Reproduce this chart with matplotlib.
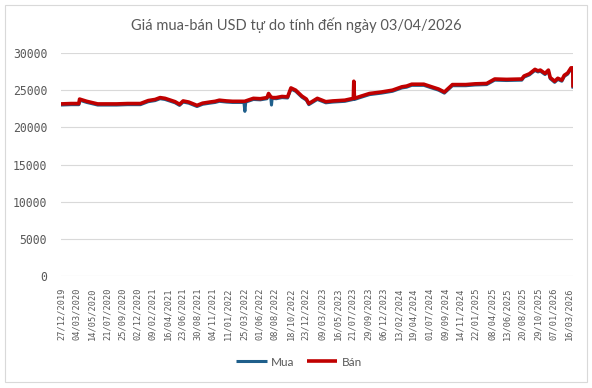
import numpy as np
import matplotlib
matplotlib.use("Agg")
import matplotlib.pyplot as plt
import matplotlib.dates as mdates
from matplotlib.patches import Rectangle

# Data
dates = ["2019-12-27", "2020-02-10", "2020-03-16", "2020-03-19", "2020-04-20",
         "2020-06-08", "2020-07-15", "2020-09-01", "2020-10-20", "2020-12-16",
         "2021-01-20", "2021-02-20", "2021-03-14", "2021-04-05", "2021-04-25",
         "2021-05-20", "2021-06-09", "2021-06-25", "2021-07-20", "2021-08-26",
         "2021-09-20", "2021-10-22", "2021-11-15", "2021-12-04", "2022-01-05",
         "2022-02-01", "2022-03-24", "2022-03-28", "2022-04-01", "2022-05-05",
         "2022-06-05", "2022-07-05", "2022-07-12", "2022-07-22", "2022-07-25",
         "2022-07-28", "2022-08-15", "2022-09-10", "2022-10-05", "2022-10-20",
         "2022-11-10", "2022-12-08", "2022-12-28", "2023-01-08", "2023-02-15",
         "2023-03-25", "2023-04-25", "2023-06-18", "2023-07-26", "2023-07-28",
         "2023-07-31", "2023-08-25", "2023-10-06", "2023-11-28", "2024-01-17",
         "2024-02-28", "2024-03-20", "2024-04-12", "2024-06-05", "2024-07-10",
         "2024-08-10", "2024-09-05", "2024-10-11", "2024-12-10", "2025-01-20",
         "2025-03-13", "2025-04-18", "2025-06-10", "2025-08-17", "2025-08-27",
         "2025-09-20", "2025-10-15", "2025-10-28", "2025-11-08", "2025-11-29",
         "2025-12-14", "2025-12-22", "2026-01-11", "2026-01-25", "2026-02-12",
         "2026-02-23", "2026-03-10", "2026-03-25", "2026-04-02", "2026-04-03"]

ban = [23150, 23200, 23200, 23800, 23500,
       23150, 23150, 23150, 23200, 23200,
       23600, 23750, 24000, 23900, 23700,
       23450, 23100, 23550, 23400, 22950,
       23250, 23400, 23500, 23650, 23550,
       23500, 23500, 23500, 23550, 23900,
       23850, 24000, 24550, 24100, 24050,
       24000, 24000, 24150, 24100, 25300,
       25000, 24200, 23800, 23200, 23900,
       23450, 23550, 23650, 23900, 26200,
       23900, 24150, 24550, 24750, 25000,
       25450, 25550, 25800, 25800, 25450,
       25150, 24750, 25750, 25750, 25850,
       25900, 26500, 26450, 26500, 26900,
       27200, 27800, 27600, 27700, 27250,
       27700, 26700, 26200, 26600, 26350,
       27000, 27300, 28000, 28000, 25350]

mua = [23000, 23050, 23050, 23650, 23350,
       23000, 23000, 23000, 23050, 23050,
       23450, 23600, 23850, 23750, 23550,
       23300, 22950, 23400, 23250, 22800,
       23100, 23250, 23350, 23500, 23400,
       23350, 23350, 22150, 23400, 23750,
       23700, 23850, 24400, 24000, 23000,
       23900, 23850, 24000, 23950, 25150,
       24850, 24050, 23650, 23050, 23750,
       23300, 23400, 23500, 23750, 23800,
       23750, 24000, 24400, 24600, 24850,
       25300, 25400, 25650, 25650, 25300,
       25000, 24600, 25600, 25600, 25700,
       25750, 26350, 26300, 26350, 26750,
       27050, 27650, 27450, 27550, 27100,
       27550, 26550, 26050, 26450, 26200,
       26850, 27150, 27850, 27850, 25200]

tick_dates = ["2019-12-27", "2020-03-04", "2020-05-14", "2020-07-21", "2020-09-25",
              "2020-12-02", "2021-02-09", "2021-04-16", "2021-06-23", "2021-08-30",
              "2021-11-04", "2022-01-11", "2022-03-25", "2022-06-01", "2022-08-08",
              "2022-10-18", "2022-12-23", "2023-03-09", "2023-05-16", "2023-07-21",
              "2023-09-29", "2023-12-06", "2024-02-13", "2024-04-19", "2024-07-01",
              "2024-09-09", "2024-11-14", "2025-01-22", "2025-04-08", "2025-06-13",
              "2025-08-20", "2025-10-29", "2026-01-07", "2026-03-16"]

title = "Giá mua-bán USD tự do tính đến ngày 03/04/2026"

x = np.array(dates, dtype="datetime64[D]")
xt = np.array(tick_dates, dtype="datetime64[D]")

grey = "#595959"
fig = plt.figure(figsize=(5.92, 3.88), dpi=100)
fig.patch.set_facecolor("white")
# chart border
fig.patches.append(Rectangle((5 / 592, 6 / 388), 582 / 592, 377 / 388, transform=fig.transFigure,
                             fill=False, edgecolor="#D9D9D9", linewidth=0.8))

ax = fig.add_axes([61 / 592, 1 - 276 / 388, 512 / 592, 223 / 388])
ax.plot(x, mua, color="#1F5F8B", linewidth=2.2, label="Mua",
        solid_joinstyle="round", solid_capstyle="butt")
ax.plot(x, ban, color="#C00000", linewidth=2.6, label="Bán",
        solid_joinstyle="round", solid_capstyle="butt")

ax.set_ylim(0, 30000)
ax.set_yticks(range(0, 30001, 5000))
ax.set_xlim(x[0], x[-1])
ax.set_xticks(xt)
ax.xaxis.set_major_formatter(mdates.DateFormatter("%d/%m/%Y"))

ax.grid(axis="y", color="#D9D9D9", linewidth=0.8)
ax.set_axisbelow(True)
for s in ax.spines.values():
    s.set_visible(False)
ax.tick_params(length=0)
ax.tick_params(axis="y", pad=10, labelsize=8.3, labelcolor=grey)
ax.tick_params(axis="x", pad=8, labelsize=6.2, labelcolor=grey, rotation=90)
for lab in ax.get_xticklabels() + ax.get_yticklabels():
    lab.set_family("DejaVu Sans Mono")

fig.text(0.5, 1 - 25 / 388, title, ha="center", va="center", fontsize=10.5,
         color=grey, family="Lato")

leg = fig.legend(loc="center", bbox_to_anchor=(299 / 592, 1 - 362 / 388), ncol=2,
                 frameon=False, handlelength=2.6, handletextpad=0.4, columnspacing=1.0,
                 prop={"family": "Lato", "size": 8.5})
for t in leg.get_texts():
    t.set_color(grey)

fig.savefig("out.png", dpi=100)
